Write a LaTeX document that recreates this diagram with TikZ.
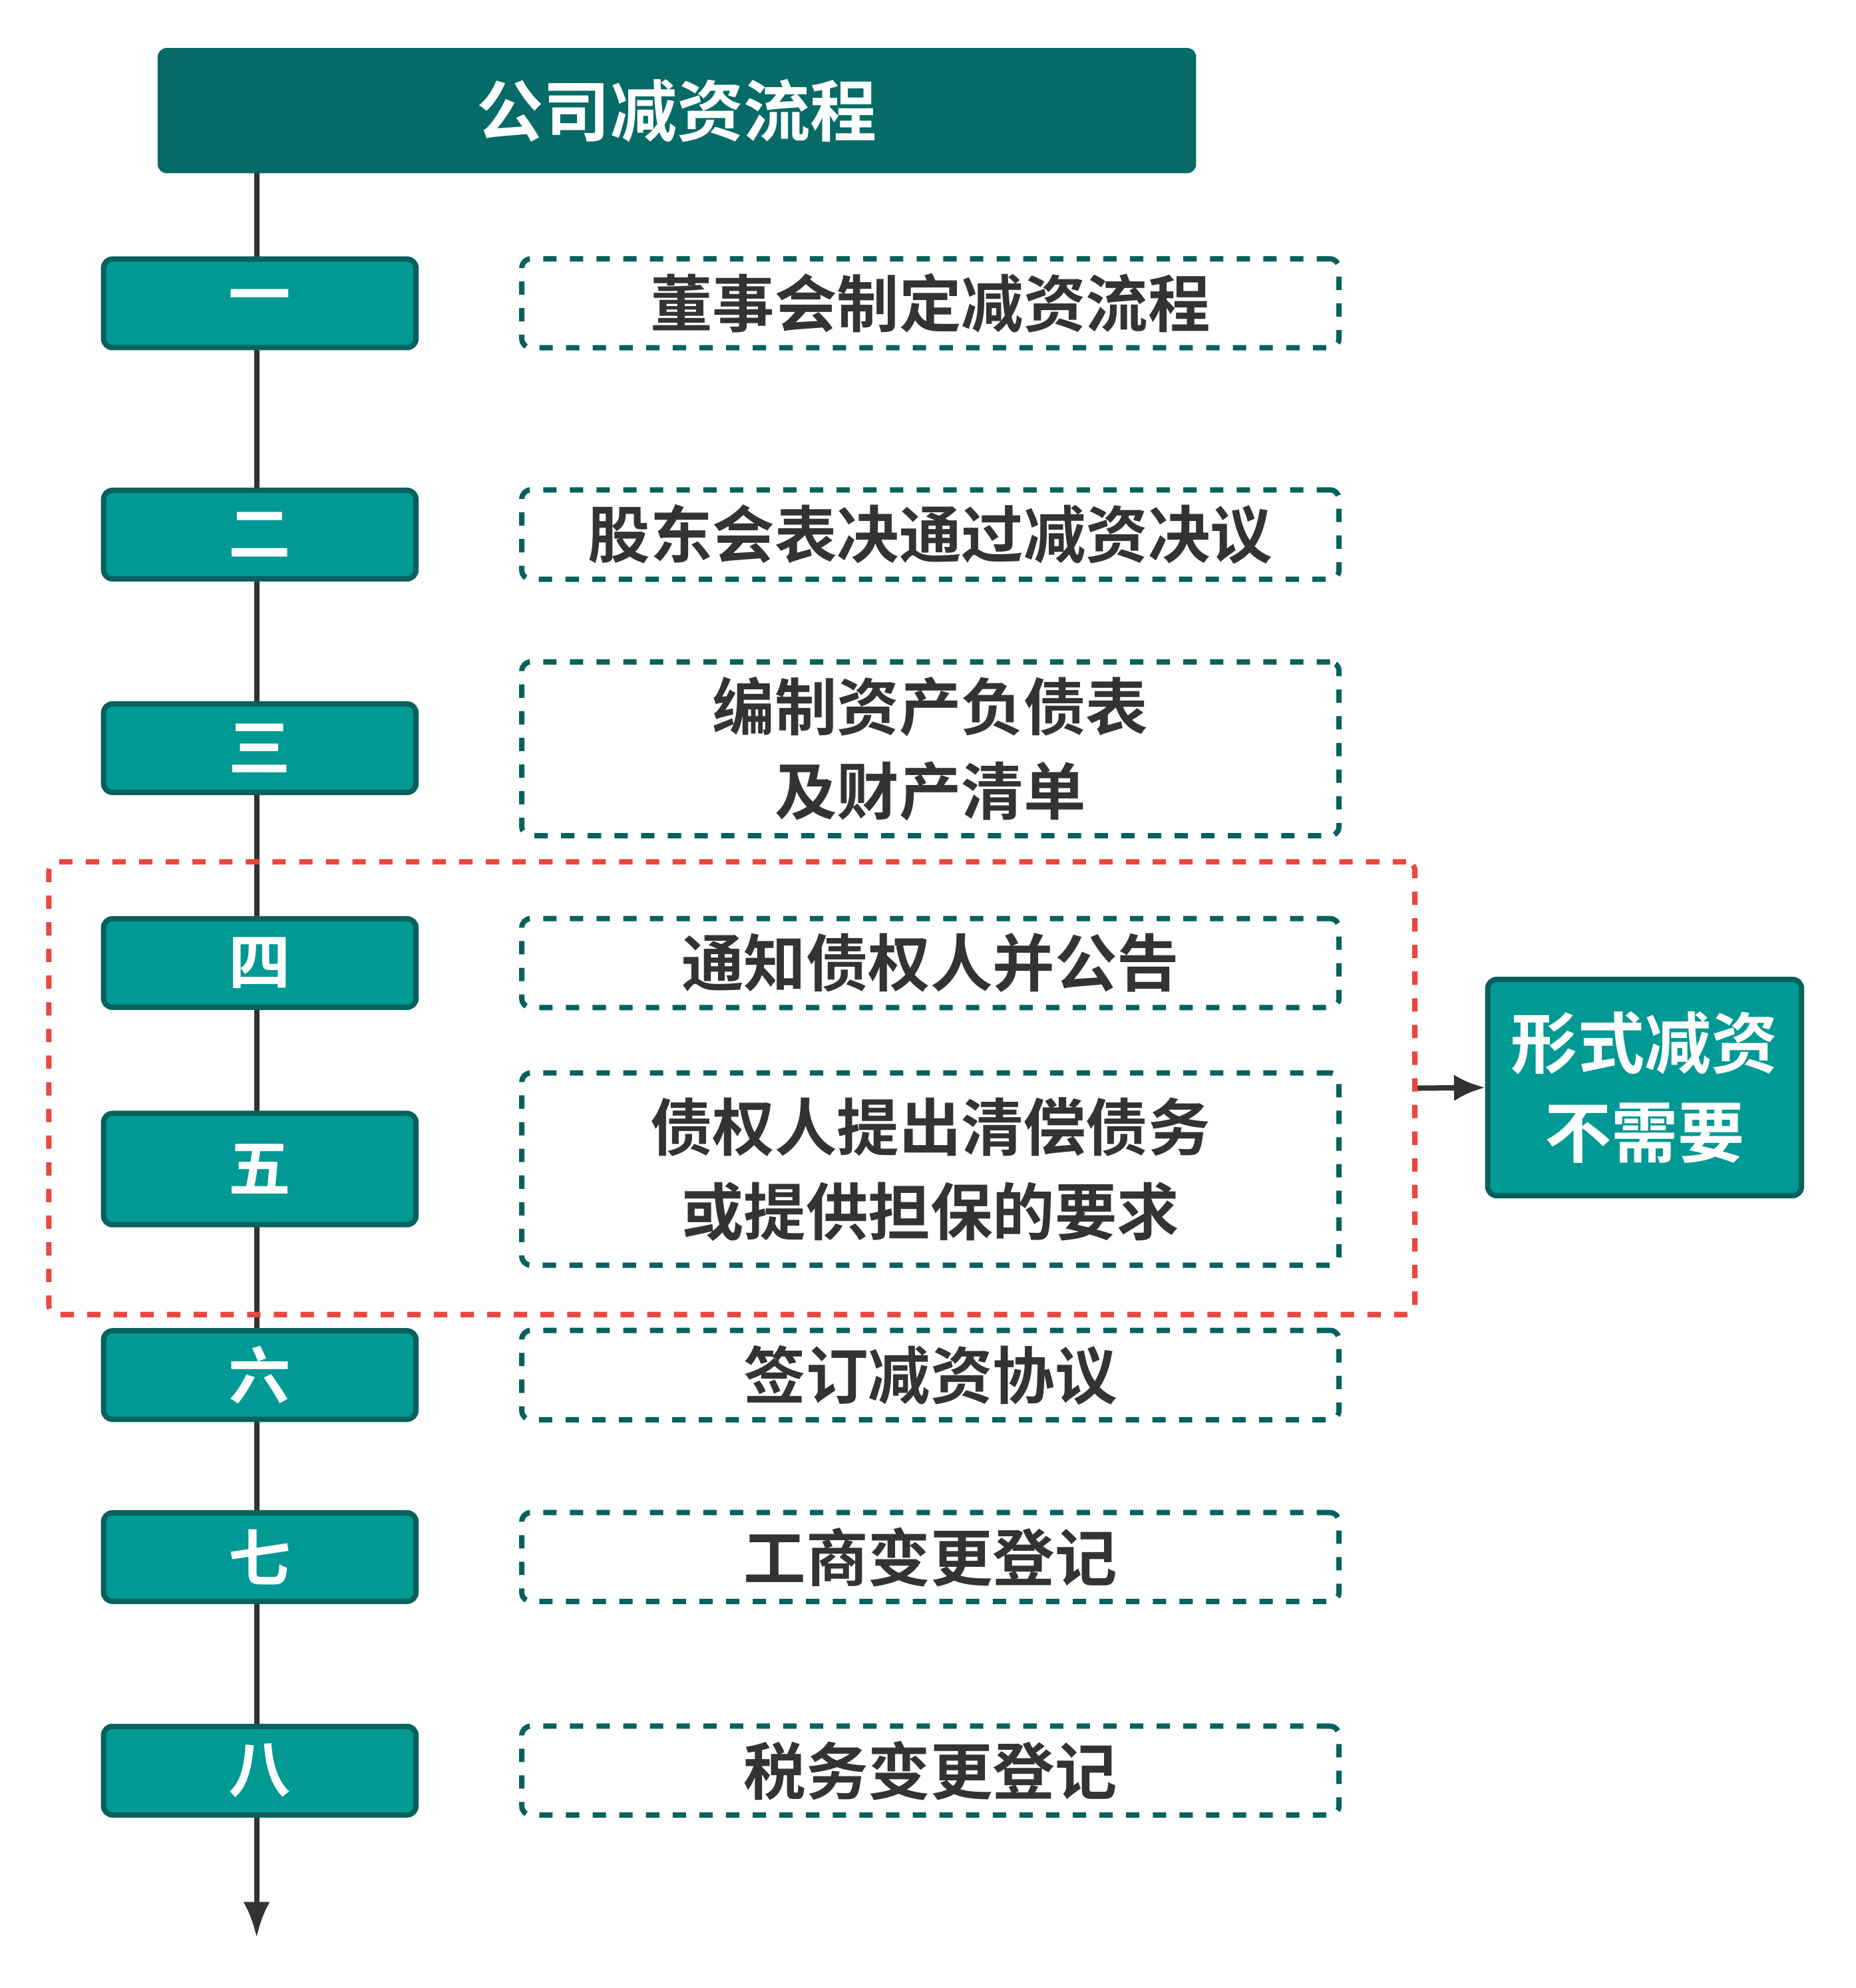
\documentclass[tikz,border=0pt]{standalone}
\usepackage{fontspec}
\newfontfamily\cjk{Noto Sans CJK SC Bold}
\usetikzlibrary{arrows.meta}
\definecolor{darkteal}{HTML}{066B66}
\definecolor{teal}{HTML}{009994}
\definecolor{tealline}{HTML}{07615D}
\definecolor{txtgray}{HTML}{333333}
\definecolor{redline}{HTML}{E8473F}
\tikzset{
  stepnum/.style={draw=tealline, line width=1.2pt, fill=teal, rounded corners=2pt, text=white,
    minimum width=2.47cm, minimum height=0.7cm, font=\cjk\fontsize{14}{18}\selectfont},
  stepbox/.style={draw=tealline, dashed, line width=1.2pt, rounded corners=2pt, text=txtgray,
    minimum width=6.46cm, minimum height=0.68cm, align=center, font=\cjk\fontsize{14}{19}\selectfont},
}
\begin{document}
\begin{tikzpicture}[x=0.01cm,y=-0.01cm]

        \useasboundingbox (0,0) rectangle (1468,1573);

        \node[fill=darkteal, rounded corners=2pt, text=white, minimum width=8.21cm, minimum height=0.99cm,
          font=\cjk\fontsize{15}{18}\selectfont] (title) at (535.5,87.5) {公司减资流程};

        \coordinate (bottom) at (203,1533);
        \draw[line width=1.2pt, txtgray, -{Latex[length=8pt,width=6pt]}] (203,137) -- (bottom);

        \node[stepnum] (n1) at (205.5,240) {一};
        \node[stepnum] (n2) at (205.5,423) {二};
        \node[stepnum] (n3) at (205.5,592) {三};
        \node[stepnum] (n4) at (205.5,762) {四};
        \node[stepnum, minimum height=0.88cm] (n5) at (205.5,925) {五};
        \node[stepnum] (n6) at (205.5,1088) {六};
        \node[stepnum] (n7) at (205.5,1232) {七};
        \node[stepnum] (n8) at (205.5,1401) {八};

        \node[stepbox] (s1) at (736,240) {董事会制定减资流程};
        \node[stepbox] (s2) at (736,423) {股东会表决通过减资决议};
        \node[stepbox, minimum height=1.29cm] (s3) at (736,592.5) {编制资产负债表\\及财产清单};
        \node[stepbox] (s4) at (736,762) {通知债权人并公告};
        \node[stepbox, minimum height=1.52cm] (s5) at (736,925) {债权人提出清偿债务\\或提供担保的要求};
        \node[stepbox] (s6) at (736,1088) {签订减资协议};
        \node[stepbox] (s7) at (736,1232) {工商变更登记};
        \node[stepbox] (s8) at (736,1401) {税务变更登记};

        \node[draw=redline, dashed, line width=1.2pt, rounded corners=2pt, minimum width=10.8cm,
          minimum height=3.58cm] (group) at (579,861) {};

        \node[stepnum, minimum width=2.48cm, minimum height=1.71cm, align=center,
          font=\cjk\fontsize{15}{20}\selectfont] (form) at (1301,860.5) {形式减资\\不需要};

        \draw[line width=1.2pt, txtgray, -{Latex[length=7pt,width=6pt]}] (group.east) -- (form.west);

\end{tikzpicture}
\end{document}
